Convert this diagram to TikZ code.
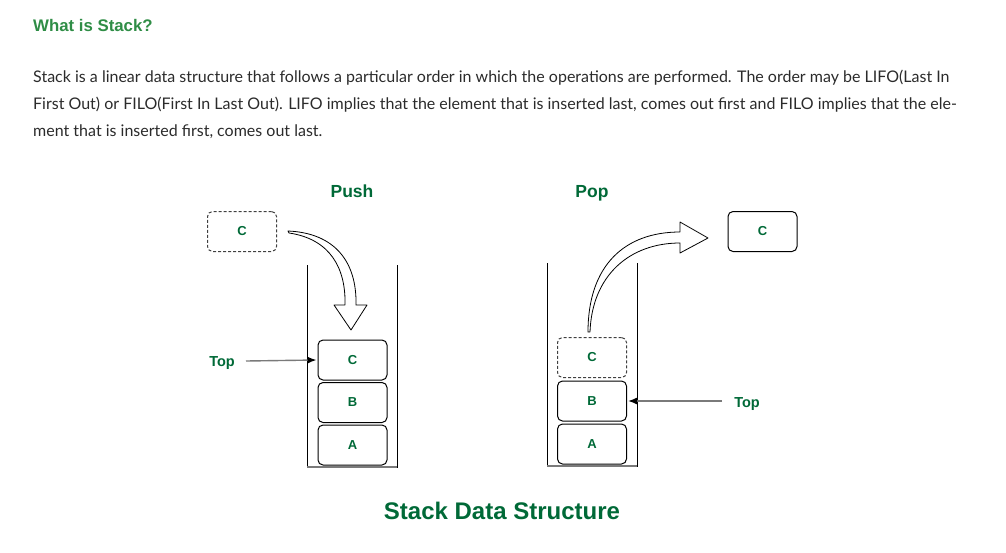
\documentclass[tikz,border=0pt]{standalone}
\usepackage{fontspec}
\setmainfont{Lato}
\setsansfont{Liberation Sans}
\usepackage{xcolor}
\usepackage{tikz}
\usetikzlibrary{shapes, arrows.meta, positioning, calc}

\definecolor{headgreen}{HTML}{2F8D46}
\definecolor{labelgreen}{HTML}{006937}
\definecolor{bodygrey}{HTML}{2B2B2B}
\definecolor{rimgrey}{HTML}{7A7A7A}

\tikzset{
  elem/.style={draw, line width=1pt, rounded corners=5pt, minimum width=69pt, minimum height=40pt,
    inner sep=0pt, font=\sffamily\bfseries\fontsize{13}{13}\selectfont, text=labelgreen},
  ghost/.style={elem, dash pattern=on 3pt off 2pt, draw=black!75},
  tag/.style={anchor=base, font=\sffamily\bfseries\fontsize{14.5}{14.5}\selectfont, text=labelgreen},
  caption/.style={anchor=base, font=\sffamily\bfseries\fontsize{17.5}{17.5}\selectfont, text=labelgreen},
  bodyline/.style={anchor=base west, inner sep=0pt, text=bodygrey, font=\fontsize{16}{16}\selectfont},
  pointer/.style={-{Latex[length=9pt, width=7pt, black]}, rimgrey, line width=1.4pt},
  hollow/.style={draw, fill=white, line width=0.8pt, line join=round}
}

\begin{document}
\begin{tikzpicture}[x=1pt, y=-1pt]
      \useasboundingbox (0,0) rectangle (1006,552);

      % heading and text
      \node[anchor=base west, inner sep=0pt, text=headgreen, font=\sffamily\bfseries\fontsize{16.8}{16.8}\selectfont] at (33,31) (title) {What is Stack?};
      \node[bodyline] at (33,82) (line1) {Stack is a linear data structure that follows a particular order in which the operations are performed. The order may be LIFO(Last In};
      \node[bodyline] at (33,109) (line2) {First Out) or FILO(First In Last Out). LIFO implies that the element that is inserted last, comes out first and FILO implies that the ele-};
      \node[bodyline] at (33,136) (line3) {ment that is inserted first, comes out last.};

      % push side
      \node[caption] at (352,197) (push) {Push};
      \draw[line width=1pt] (307,265) -- (307,467) -- (397,467) -- (397,265);
      \draw[rimgrey, line width=2pt] (307,467) -- (397,467);
      \node[ghost] at (242,231.5) (inC) {C};
      \node[elem] at (352.5,360) (pushC) {C};
      \node[elem] at (352.5,402.5) (pushB) {B};
      \node[elem] at (352.5,445) (pushA) {A};
      \node[tag] at (222,366) (pushtop) {Top};
      \draw[pointer] (246,361) -- ([xshift=-1pt]pushC.west);
      \draw[hollow] (288,231) .. controls (335,233) and (357,262) .. (356,305)
        -- (367,305) -- (351,330) -- (334,305) -- (345,305)
        .. controls (346,268) and (330,239) .. (289,233) -- cycle;

      % pop side
      \node[caption] at (592,197) (pop) {Pop};
      \draw[line width=1pt] (547,263) -- (547,466) -- (637,466) -- (637,263);
      \draw[rimgrey, line width=2pt] (547,466) -- (637,466);
      \node[ghost] at (592,357.5) (popC) {C};
      \node[elem] at (592,401) (popB) {B};
      \node[elem] at (592,444) (popA) {A};
      \node[elem] at (762.5,231.5) (outC) {C};
      \node[tag] at (747,407) (poptop) {Top};
      \draw[pointer] (722,401) -- ([xshift=1pt]popB.east);
      \draw[hollow] (588,332) .. controls (588,265) and (625,232) .. (680,232)
        -- (680,222) -- (708,238) -- (680,253) -- (680,243)
        .. controls (630,243) and (592,275) .. (590,332) -- cycle;

      \node[font=\sffamily\bfseries\fontsize{24}{24}\selectfont, text=labelgreen] at (502,511) (name) {Stack Data Structure};
\end{tikzpicture}
\end{document}
